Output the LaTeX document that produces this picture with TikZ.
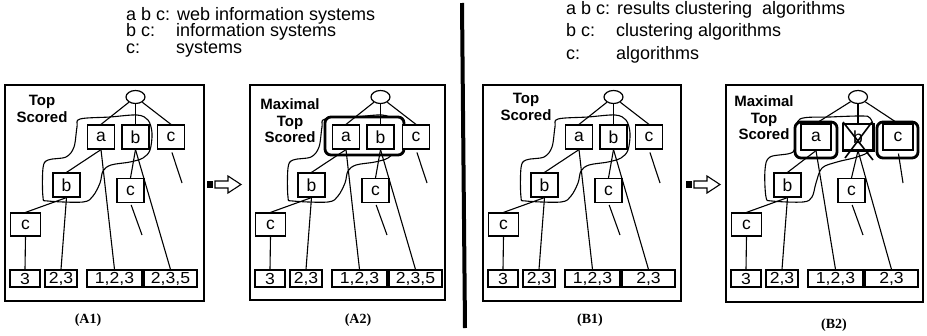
\documentclass[tikz,border=0pt]{standalone}
\usepackage{fontspec}
\setmainfont{Liberation Sans}
\newfontfamily\capfont{Liberation Serif}
\newfontfamily\leaffont[FakeStretch=1.1]{Liberation Sans}
\usetikzlibrary{shapes.geometric}
\pgfdeclarelayer{background}
\pgfsetlayers{background,main}

\tikzset{
 frame/.style={draw, line width=1.3pt},
 tbox/.style={draw, fill=white, line width=1.2pt, minimum width=27pt, minimum height=24pt, inner sep=0pt, font=\fontsize{17.5}{17.5}\selectfont},
 topbox/.style={tbox},
 leaf/.style={draw, fill=white, line width=1.2pt, minimum height=17pt, inner sep=0pt, font=\leaffont\fontsize{16}{16}\selectfont},
 rootnode/.style={draw, ellipse, fill=white, line width=1.2pt, minimum width=19pt, minimum height=13pt, inner sep=0pt},
 edge/.style={line width=1.1pt},
 blob/.style={line width=1.1pt},
 thickbox/.style={draw, fill=white, line width=2.8pt, rounded corners=6pt},
 lbl/.style={font=\bfseries\fontsize{15}{16.5}\selectfont, align=center, inner sep=0pt},
 captext/.style={font=\capfont\bfseries\fontsize{14}{14}\selectfont, inner sep=0pt},
 hdr/.style={font=\fontsize{18}{18}\selectfont, anchor=base west, inner sep=0pt},
}

\newcommand\drawtree[5]{%
 \node[rootnode] (#1r) at (#4,97) {};
 \node[topbox] (#1a) at (#3,137) {a};
 \node[topbox] (#1b) at (#4,137) {b};
 \node[topbox] (#1c) at (#5,137) {c};
 \node[tbox] (#1bb) at (66.5,185) {b};
 \node[tbox] (#1cb) at (130.5,190.5) {c};
 \node[tbox, minimum width=30pt, minimum height=23pt] (#1cc) at (25.5,224.5) {c};
 \node[leaf, minimum width=30pt] (#1l1) at (25,278.5) {3};
 \node[leaf, minimum width=32pt] (#1l2) at (61,278.5) {2,3};
 \node[leaf, minimum width=55pt] (#1l3) at (114.5,278.5) {1,2,3};
 \node[leaf, minimum width=53pt] (#1l4) at (170.5,278.5) {#2};
 \coordinate (#1d1) at (182,183);
 \coordinate (#1d2) at (142,235);
 \draw[edge] (#1r) -- (#1a.north);
 \draw[edge] (#1r) -- (#1b.north);
 \draw[edge] (#1r) -- (#1c.north);
 \draw[edge] (#1a.south) -- (#1bb.north);
 \draw[edge] (#1a.south) -- (#1l3.north);
 \draw[edge] (#1b.south) -- (#1cb.north);
 \draw[edge] (#1b.south) -- (#1l4.north);
 \draw[edge, shorten <=3pt] (#1c.south) -- (#1d1);
 \draw[edge, shorten <=2pt] (#1cb.south) -- (#1d2);
 \draw[edge] (#1bb.south) -- (#1cc.north);
 \draw[edge] (#1bb.south) -- (#1l2.north);
 \draw[edge] (#1cc.south) -- (#1l1.north);
}
\newcommand\stdblob{%
 \begin{pgfonlayer}{background}
 \draw[blob] plot[smooth cycle, tension=0.55] coordinates {(137,115) (110,117) (80,119) (77,127) (74,147) (66,157) (48,160) (43,168) (43,197) (48,201) (83,202) (93,196) (100,183) (103,171) (111,165) (130,162) (143,158) (150,150) (152,133) (148,120)};
 \end{pgfonlayer}}

\begin{document}
\begin{tikzpicture}[x=1pt,y=-1pt]
\useasboundingbox (0,0) rectangle (927,335);

% headers
\node[hdr] (hA1k) at (126,20.5) {a b c:};
\node[hdr] (hA1v) at (177,20.5) {web information systems};
\node[hdr] (hA2k) at (126,36.7) {b c:};
\node[hdr] (hA2v) at (176,36.7) {information systems};
\node[hdr] (hA3k) at (126,53) {c:};
\node[hdr] (hA3v) at (176,53) {systems};
\node[hdr] (hB1k) at (566,14) {a b c:};
\node[hdr] (hB1v) at (617,14) {results clustering\ \ algorithms};
\node[hdr] (hB2k) at (566,36.7) {b c:};
\node[hdr] (hB2v) at (616,36.7) {clustering algorithms};
\node[hdr] (hB3k) at (566,59) {c:};
\node[hdr] (hB3v) at (616,59) {algorithms};

% divider
\draw[line width=4pt] (462,3) -- (465,328);

% A1
\begin{scope}
 \draw[frame] (5,85) rectangle (204,301);
 \stdblob
 \drawtree{pa}{2,3,5}{101}{135.5}{171}
 \node[lbl] (ta) at (42,109) {Top\\Scored};
\end{scope}
\node[captext] (capA1) at (88,320) {(A1)};

% A2
\begin{scope}[xshift=245]
 \draw[frame] (5,85) rectangle (200,300);
 \stdblob
 \begin{pgfonlayer}{background}
  \draw[thickbox] (80,117) rectangle (159,155);
 \end{pgfonlayer}
 \drawtree{pb}{2,3,5}{101}{135.5}{171}
 \node[lbl] (tb) at (45,121) {Maximal\\Top\\Scored};
\end{scope}
\node[captext] (capA2) at (358,320) {(A2)};

% B1
\begin{scope}[xshift=478]
 \draw[frame] (5,85) rectangle (203,301);
 \stdblob
 \drawtree{pc}{2,3}{101}{135.5}{171}
 \node[lbl] (tc) at (48,107) {Top\\Scored};
\end{scope}
\node[captext] (capB1) at (590,320) {(B1)};

% B2
\begin{scope}[xshift=721, topbox/.style={tbox, minimum width=30pt, minimum height=26pt}]
 \draw[frame] (5,85) rectangle (202,302);
 \begin{pgfonlayer}{background}
  \draw[blob] plot[smooth cycle, tension=0.55] coordinates {(141,116) (109,117) (79,119) (75,135) (72,152) (49,157) (44,170) (45,197) (51,201) (82,202) (91,197) (95,183) (101,168) (116,162) (136,157) (149,150) (153,130) (149,118)};
  \draw[thickbox] (74,122) rectangle (116,158);
  \draw[thickbox] (156,122) rectangle (197,158);
 \end{pgfonlayer}
 \drawtree{pd}{2,3}{95}{137}{177}
 \draw[line width=1.8pt] (pdb.south west) rectangle (pdb.north east);
 \draw[line width=1.6pt] (122,122) -- (152,160);
 \draw[line width=1.6pt] (151,122) -- (124,158);
 \node[lbl] (td) at (43,118) {Maximal\\Top\\Scored};
\end{scope}
\node[captext] (capB2) at (834,325) {(B2)};

% arrows
\fill (207,181) rectangle (213,188);
\draw[line width=1.1pt] (215,181) -- (228,181) -- (228,176) -- (241,184.5) -- (228,193) -- (228,188) -- (215,188) -- cycle;
\fill (686,181) rectangle (692,188);
\draw[line width=1.1pt] (694,181) -- (707,181) -- (707,176) -- (720,184.5) -- (707,193) -- (707,188) -- (694,188) -- cycle;
\end{tikzpicture}
\end{document}
